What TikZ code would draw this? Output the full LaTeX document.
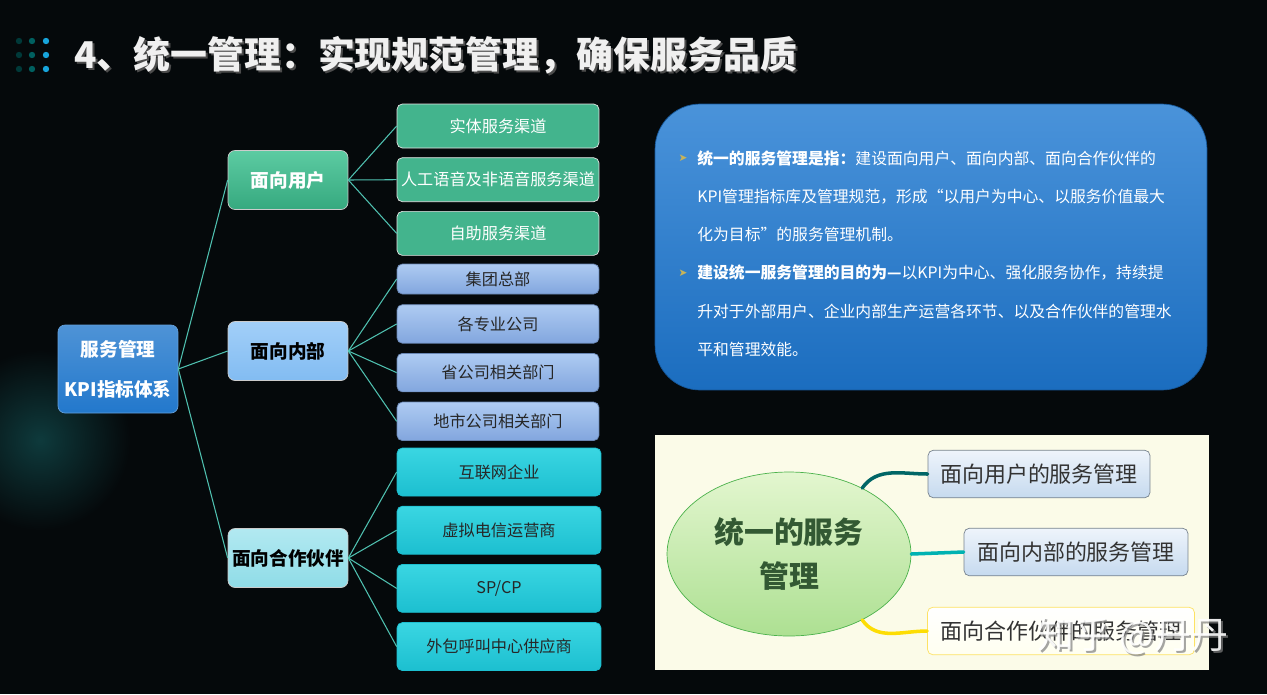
\documentclass[tikz,border=0pt]{standalone}
\usepackage{fontspec}
\setmainfont{Noto Sans CJK SC}
\newfontfamily\symfont{DejaVu Sans}
\usepackage{tikz}
\usetikzlibrary{positioning,shapes.geometric}
\definecolor{bgdark}{HTML}{05090B}
\definecolor{glow}{HTML}{0E3A3C}
\definecolor{linkteal}{HTML}{4FC1B0}
\definecolor{rootblue}{HTML}{2278CC}
\definecolor{gmidtop}{HTML}{5CCBA2}
\definecolor{gmidbot}{HTML}{36A97F}
\definecolor{imidtop}{HTML}{A2CFF8}
\definecolor{imidbot}{HTML}{82BCF2}
\definecolor{pmidtop}{HTML}{B2E9F1}
\definecolor{pmidbot}{HTML}{8FDCE7}
\definecolor{gleaf}{HTML}{43B48D}
\definecolor{bleaftop}{HTML}{AECBF2}
\definecolor{bleafbot}{HTML}{82A6DE}
\definecolor{cleaftop}{HTML}{3AD6E2}
\definecolor{cleafbot}{HTML}{1CBFD0}
\definecolor{paneltop}{HTML}{4A93DA}
\definecolor{panelbot}{HTML}{1B6DBF}
\definecolor{cream}{HTML}{FBFBE8}
\definecolor{hubtop}{HTML}{E3F6CF}
\definecolor{hubbot}{HTML}{ADE092}
\definecolor{boxtop}{HTML}{EEF4FB}
\definecolor{boxbot}{HTML}{C6DAEF}
\definecolor{gold}{HTML}{C9B458}

\begin{document}
\begin{tikzpicture}[x=0.02cm, y=-0.02cm,
    node distance=0.19cm and 0.5cm,
    root/.style={draw=rootblue!70!white, rounded corners=4pt, top color=rootblue!80!white, bottom color=rootblue,
      text=white, align=center, minimum width=2.4cm, minimum height=1.76cm,
      font={\fontsize{10.6}{22.7}\selectfont\bfseries}},
    mid/.style={draw=white!60!gray, rounded corners=4pt, minimum width=2.4cm, minimum height=1.18cm,
      inner xsep=1pt, font={\fontsize{10.6}{13}\selectfont\bfseries}},
    leaf/.style={draw=white!80!gray, rounded corners=3pt, minimum width=4.04cm, inner xsep=1pt,
      font={\fontsize{9.2}{11}\selectfont}},
    gleafbox/.style={leaf, fill=gleaf, text=white, minimum height=0.88cm},
    bleafbox/.style={leaf, top color=bleaftop, bottom color=bleafbot, draw=bleafbot!80!black, text=black!85, minimum height=0.77cm},
    cleafbox/.style={leaf, top color=cleaftop, bottom color=cleafbot, draw=cleafbot, text=black!85, minimum width=4.08cm, minimum height=0.96cm},
    link/.style={linkteal, line width=0.6pt},
    mapbox/.style={draw=boxbot!60!black, rounded corners=3pt, top color=boxtop, bottom color=boxbot, text=black!80,
      minimum height=0.95cm, inner xsep=4pt, font={\fontsize{12.5}{15}\selectfont}},
    branch/.style={line width=2pt, line cap=round}
  ]
  % background
  \useasboundingbox (0,0) rectangle (1267,694);
  \fill[bgdark] (0,0) rectangle (1267,694);
  \begin{scope}
    \clip (0,0) rectangle (1267,694);
    \shade[inner color=glow, outer color=bgdark] (40,440) circle (90);
  \end{scope}

  % title
  \foreach \col/\shadecol in {19/teal!45!black, 32/teal!75!black, 46/cyan!80!teal}
    \foreach \row in {41,55,69}
      \fill[\shadecol] (\col,\row) circle (3.2);
  \node[anchor=west, text=black!70, font={\fontsize{21}{25}\selectfont\bfseries}] (titleshadow) at (70,57) {4、统一管理：实现规范管理，确保服务品质};
  \node[anchor=west, text=white!88!gray, font={\fontsize{21}{25}\selectfont\bfseries}] (title) at (68,55) {4、统一管理：实现规范管理，确保服务品质};

  % tree
  \node[root] (kpi) at (118,369) {服务管理\\KPI指标体系};

  \node[mid, top color=gmidtop, bottom color=gmidbot, text=white] (user) at (288,180) {面向用户};
  \node[mid, top color=imidtop, bottom color=imidbot, text=black] (inner) at (288,351) {面向内部};
  \node[mid, top color=pmidtop, bottom color=pmidbot, text=black] (partner) at (288,558) {面向合作伙伴};

  \node[gleafbox] (g1) at (498,126) {实体服务渠道};
  \node[gleafbox, below=0.18cm of g1] (g2) {人工语音及非语音服务渠道};
  \node[gleafbox, below=0.18cm of g2] (g3) {自助服务渠道};

  \node[bleafbox, minimum height=0.6cm] (b1) at (498,279) {集团总部};
  \node[bleafbox, below=0.2cm of b1] (b2) {各专业公司};
  \node[bleafbox, below=of b2] (b3) {省公司相关部门};
  \node[bleafbox, below=of b3] (b4) {地市公司相关部门};

  \node[cleafbox] (c1) at (499,472) {互联网企业};
  \node[cleafbox, below=of c1] (c2) {虚拟电信运营商};
  \node[cleafbox, below=of c2] (c3) {SP/CP};
  \node[cleafbox, below=of c3] (c4) {外包呼叫中心供应商};

  \foreach \m in {user,inner,partner}
    \draw[link] (kpi.east) -- (\m.west);
  \foreach \l in {g1,g2,g3}
    \draw[link] (user.east) -- (\l.west);
  \foreach \l in {b1,b2,b3,b4}
    \draw[link] (inner.east) -- (\l.west);
  \foreach \l in {c1,c2,c3,c4}
    \draw[link] (partner.east) -- (\l.west);

  % info panel
  \node[rounded corners=0.9cm, top color=paneltop, bottom color=panelbot, draw=panelbot!80!black,
    minimum width=11.04cm, minimum height=5.72cm] (info) at (931,247) {};
  \node[text=gold, font={\symfont\fontsize{6}{7}\selectfont}] (dot1) at (683,158) {➤};
  \node[text=gold, font={\symfont\fontsize{6}{7}\selectfont}] (dot2) at (683,273) {➤};
  \node[anchor=north west, inner sep=0pt, text=white, align=left,
    font={\fontsize{9}{21.8}\selectfont}] (infotext) at (697,150)
    {\textbf{统一的服务管理是指：}建设面向用户、面向内部、面向合作伙伴的\\
     KPI管理指标库及管理规范，形成“以用户为中心、以服务价值最大\\
     化为目标”的服务管理机制。\\
     \textbf{建设统一服务管理的目的为—}以KPI为中心、强化服务协作，持续提\\
     升对于外部用户、企业内部生产运营各环节、以及合作伙伴的管理水\\
     平和管理效能。};

  % mind map picture
  \fill[cream] (655,435) rectangle (1209,670);
  \node[ellipse, draw=gray!60!green, top color=hubtop, bottom color=hubbot, minimum width=4.88cm, minimum height=3.28cm,
    align=center, text=black!75!green!60!gray, font={\fontsize{17}{25.5}\selectfont\bfseries}] (hub) at (789,554) {统一的服务\\管理};
  \node[mapbox, minimum width=4.44cm] (m1) at (1039,474) {面向用户的服务管理};
  \node[mapbox, minimum width=4.48cm] (m2) at (1076,552) {面向内部的服务管理};
  \node[mapbox, minimum width=5.34cm, top color=white, bottom color=yellow!6!white, draw=yellow!70!orange!60!white] (m3) at (1061,631) {面向合作伙伴的服务管理};
  \draw[branch, teal!80!black] (hub.42) to[out=55, in=180] (m1.west);
  \draw[branch, teal!60!cyan] (hub.east) -- (m2.west);
  \draw[branch, yellow!80!orange] (hub.-42) to[out=-55, in=180] (m3.west);

  % watermark
  \node[text=gray, opacity=0.7, font={\fontsize{21}{25}\selectfont}] (wmshadow) at (1135,638) {知乎 @丹丹};
  \node[text=white, opacity=0.9, font={\fontsize{21}{25}\selectfont}] (wm) at (1133,636) {知乎 @丹丹};
\end{tikzpicture}
\end{document}
